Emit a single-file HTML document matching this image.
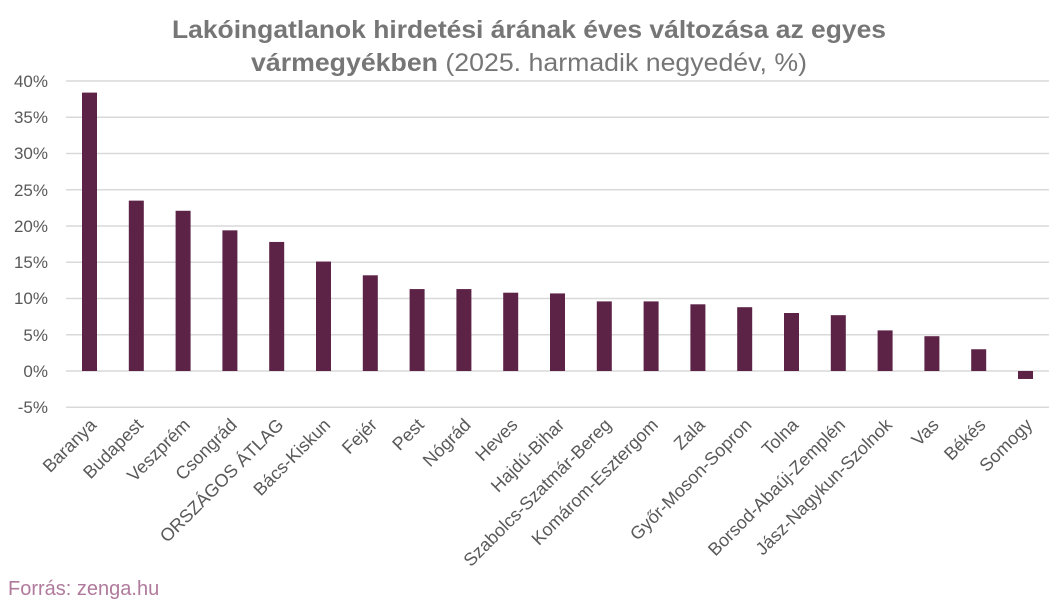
<!DOCTYPE html>
<html><head><meta charset="utf-8"><style>
html,body{margin:0;padding:0;background:#fff;}
svg{display:block;font-family:"Liberation Sans",sans-serif;}
</style></head><body>
<svg width="1058" height="605" viewBox="0 0 1058 605" xmlns="http://www.w3.org/2000/svg">
<text x="529" y="38" text-anchor="middle" font-size="25" font-weight="bold" fill="#767676" textLength="714" lengthAdjust="spacingAndGlyphs">Lakóingatlanok hirdetési árának éves változása az egyes</text>
<text x="529" y="71" text-anchor="middle" font-size="25" fill="#767676" textLength="556" lengthAdjust="spacingAndGlyphs"><tspan font-weight="bold">vármegyékben</tspan> (2025. harmadik negyedév, %)</text>
<g stroke="#d9d9d9" stroke-width="1.5">
<line x1="66" x2="1049" y1="81" y2="81"/><line x1="66" x2="1049" y1="117.25" y2="117.25"/>
<line x1="66" x2="1049" y1="153.5" y2="153.5"/><line x1="66" x2="1049" y1="189.75" y2="189.75"/>
<line x1="66" x2="1049" y1="226" y2="226"/><line x1="66" x2="1049" y1="262.25" y2="262.25"/>
<line x1="66" x2="1049" y1="298.5" y2="298.5"/><line x1="66" x2="1049" y1="334.75" y2="334.75"/>
<line x1="66" x2="1049" y1="371" y2="371"/><line x1="66" x2="1049" y1="407.25" y2="407.25"/>
</g>
<g font-size="17" fill="#595959" text-anchor="end">
<text x="48" y="87">40%</text><text x="48" y="123">35%</text><text x="48" y="159">30%</text>
<text x="48" y="196">25%</text><text x="48" y="232">20%</text><text x="48" y="268">15%</text>
<text x="48" y="304">10%</text><text x="48" y="341">5%</text><text x="48" y="377">0%</text>
<text x="48" y="413">-5%</text>
</g>
<g id="bars" fill="#5c2346"></g>
<g id="labels" font-size="18" fill="#595959" text-anchor="end"></g>
<text x="8" y="595" font-size="20" fill="#b07a9c">Forrás: zenga.hu</text>
<script>
var d=[["Baranya",38.4],["Budapest",23.5],["Veszprém",22.1],["Csongrád",19.4],["ORSZÁGOS ÁTLAG",17.8],["Bács-Kiskun",15.1],["Fejér",13.2],["Pest",11.3],["Nógrád",11.3],["Heves",10.8],["Hajdú-Bihar",10.7],["Szabolcs-Szatmár-Bereg",9.6],["Komárom-Esztergom",9.6],["Zala",9.2],["Győr-Moson-Sopron",8.8],["Tolna",8.0],["Borsod-Abaúj-Zemplén",7.7],["Jász-Nagykun-Szolnok",5.6],["Vas",4.8],["Békés",3.0],["Somogy",-1.1]];
var ns="http://www.w3.org/2000/svg",b=document.getElementById("bars"),l=document.getElementById("labels");
d.forEach(function(e,i){var cx=89.5+i*46.8,v=e[1],y0=371,y=371-v*7.25;
var r=document.createElementNS(ns,"rect");r.setAttribute("x",cx-7.5);r.setAttribute("width",15);
r.setAttribute("y",Math.min(y,y0));r.setAttribute("height",Math.abs(y-y0));b.appendChild(r);
var t=document.createElementNS(ns,"text");var tx=cx+8,ty=426;t.setAttribute("x",tx);t.setAttribute("y",ty);
t.setAttribute("transform","rotate(-45 "+tx+" "+ty+")");t.textContent=e[0];l.appendChild(t);});
</script>
</svg>
</body></html>
